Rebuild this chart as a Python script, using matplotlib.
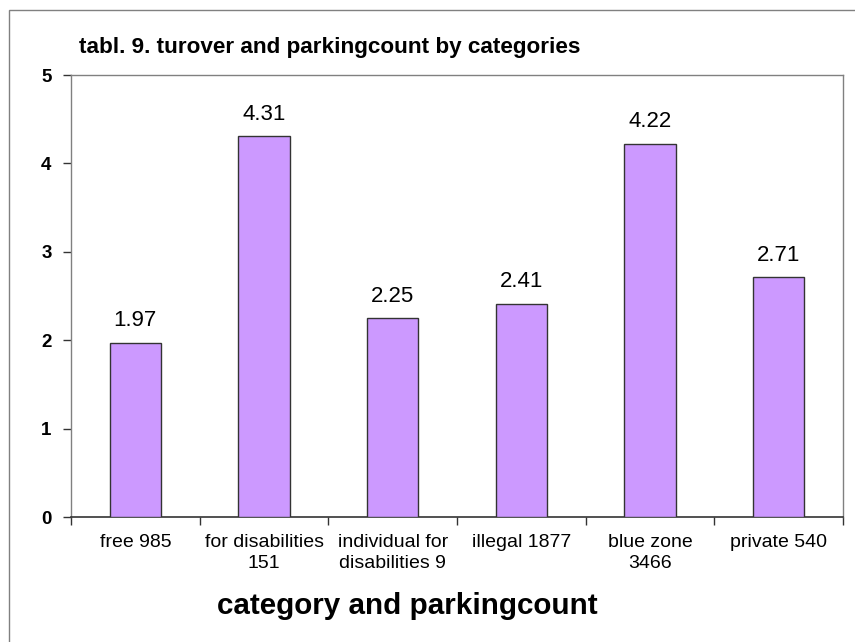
import numpy as np
import matplotlib.pyplot as plt
from matplotlib.patches import Rectangle

plt.rcParams['font.family'] = ['Liberation Sans', 'DejaVu Sans']

# ── data ─────────────────────────────
categories = ["free 985", "for disabilities\n151", "individual for\ndisabilities 9",
              "illegal 1877", "blue zone\n3466", "private 540"]
turnover   = [1.97, 4.31, 2.25, 2.41, 4.22, 2.71]
y_ticks    = [0, 1, 2, 3, 4, 5]

BAR_COLOR  = '#CC99FF'
EDGE_COLOR = '#333333'
AXIS_GRAY  = '#808080'

fig = plt.figure(figsize=(8.55, 6.42), dpi=100, facecolor='white')
ax = fig.add_axes([71 / 855, 1 - 517 / 642, (843 - 71) / 855, (517 - 75) / 642])

# outer chart border
fig.patches.append(Rectangle((9 / 855, -0.05), 1.0, 1 - 10 / 642 + 0.05,
                             transform=fig.transFigure, fill=False,
                             edgecolor=AXIS_GRAY, linewidth=1.0))

x = np.arange(len(categories))
ax.bar(x, turnover, width=0.4, color=BAR_COLOR, edgecolor=EDGE_COLOR, linewidth=1.0, zorder=3)

for xi, v in zip(x, turnover):
    ax.text(xi, v + 0.13, f"{v:.2f}", ha='center', va='bottom', fontsize=16)

ax.set_xlim(-0.5, len(categories) - 0.5)
ax.set_ylim(0, 5)
ax.set_yticks(y_ticks)
ax.set_yticklabels([str(t) for t in y_ticks], fontsize=13.5, fontweight='bold')

# category labels between boundary ticks
ax.set_xticks(np.arange(len(categories) + 1) - 0.5)
ax.set_xticklabels([])
ax.set_xticks(x, minor=True)
ax.set_xticklabels(categories, minor=True, fontsize=14, linespacing=1.3)
ax.tick_params(axis='x', which='minor', length=0, pad=12)
ax.tick_params(axis='x', which='major', length=6, width=1, color='#333333', direction='out')
ax.tick_params(axis='y', length=6, width=1, color='#333333', direction='out', pad=8)

fig.text(407 / 855, 1 - 606 / 642, "category and parkingcount",
         fontsize=21.3, fontweight='bold', ha='center', va='center')

for side in ['top', 'right', 'left']:
    ax.spines[side].set_color(AXIS_GRAY)
    ax.spines[side].set_linewidth(1.0)
ax.spines['bottom'].set_color('#333333')
ax.spines['bottom'].set_linewidth(1.2)

fig.text(79 / 855, 1 - 47 / 642, "tabl. 9. turover and parkingcount by categories",
         fontsize=16.2, fontweight='bold', ha='left', va='center')

fig.savefig("out.png", dpi=100, facecolor='white')
